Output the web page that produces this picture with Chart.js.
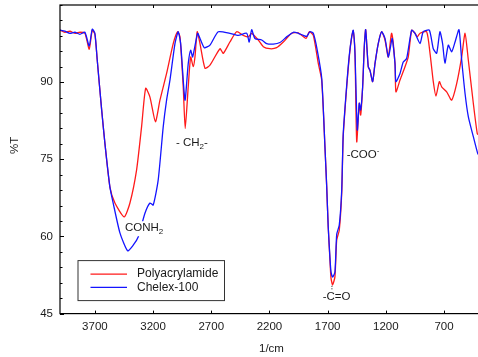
<!DOCTYPE html>
<html>
<head>
<meta charset="utf-8">
<title>IR spectra</title>
<script src="https://cdn.jsdelivr.net/npm/chart.js@4.4.1/dist/chart.umd.min.js"></script>
<style>
  html, body { margin: 0; padding: 0; overflow: hidden; background: #fff; }
  #wrap { width: 480px; height: 357px; }
</style>
</head>
<body>
<div id="wrap"><canvas id="irChart" width="480" height="357"></canvas></div>
<script>
// wavenumbers (1/cm) and transmittance (%T)
const paWn = [4000,3958,3915,3872,3829,3786,3749,3723,3700,3680,
  3642,3614,3571,3528,3448,3399,3342,3299,3264,3227,
  3180,3141,3084,3027,2989,2969,2941,2924,2898,2877,
  2855,2840,2821,2797,2754,2711,2625,2597,2540,2482,
  2425,2382,2353,2296,2253,2196,2138,2081,2009,1952,
  1886,1858,1823,1780,1751,1723,1708,1695,1680,1671,
  1657,1637,1622,1600,1579,1566,1536,1514,1493,1480,
  1465,1450,1428,1416,1399,1385,1373,1351,1336,1313,
  1293,1265,1236,1207,1179,1150,1121,1113,1078,1035,
  1007,978,949,930,906,849,820,792,769,740,
  720,677,634,591,548,519,491,448,414,400];
const paT = [100.1,99.7,99.9,99.5,99.7,99.5,96.4,100.1,99.3,94.3,
  84.6,78.1,69.6,66.5,63.8,66.5,72.9,81.3,88.8,87.1,
  82.3,86.5,91.7,97.5,99.8,98.8,89.1,81.0,89.1,94.9,
  93.0,94.9,99.8,97.5,92.7,93.3,96.5,95.6,97.8,99.8,
  99.1,98.8,99.5,98.2,96.9,96.5,96.7,97.8,99.5,99.6,
  98.5,99.8,99.1,93.6,90.4,77.4,69.7,61.9,55.4,51.9,
  50.6,52.2,59.3,61.2,68.4,79.4,89.1,94.9,98.8,100.0,
  95.6,78.4,85.9,83.6,89.1,96.9,100.2,93.0,92.3,90.1,
  93.6,97.5,99.8,98.2,94.9,99.5,93.6,88.1,90.4,93.0,
  94.9,100.1,99.5,98.8,99.5,99.8,95.6,90.1,87.3,90.1,
  89.1,88.1,86.5,89.7,94.9,99.5,94.3,85.9,80.0,79.7];

const chWn = [4000,3958,3915,3872,3829,3786,3749,3723,3700,3680,
  3642,3614,3571,3543,3485,3419,3371,3328,3270,3227,
  3199,3156,3113,3084,3055,3012,2984,2963,2926,2898,
  2877,2860,2817,2797,2760,2711,2640,2540,2468,2396,
  2374,2353,2325,2267,2224,2167,2110,2052,1995,1952,
  1909,1880,1852,1823,1789,1751,1723,1708,1695,1680,
  1671,1657,1637,1622,1600,1579,1566,1536,1514,1493,
  1480,1465,1445,1428,1416,1399,1385,1373,1351,1336,
  1313,1293,1265,1236,1207,1179,1165,1145,1121,1113,
  1078,1050,1021,978,949,906,878,826,792,763,
  735,712,692,663,634,605,571,548,519,491,
  448,410,400];
const chT = [100.1,99.9,99.5,99.7,99.3,99.7,97.0,100.3,99.5,94.3,
  84.6,78.1,69.6,66.5,60.7,57.2,58.3,59.9,64.5,66.5,
  66.1,71.0,81.3,86.5,90.4,97.5,99.8,97.5,86.5,93.6,
  96.2,94.9,99.5,98.5,96.7,97.2,99.8,99.5,99.1,99.5,
  97.8,100.2,98.5,98.2,97.5,97.4,97.7,98.8,99.7,99.5,
  99.1,98.9,99.8,99.5,96.2,90.8,77.4,69.7,61.9,55.8,
  53.1,52.1,53.1,60.4,62.2,69.0,79.9,89.4,95.2,98.9,
  100.1,95.6,80.7,85.9,84.6,89.1,96.9,100.2,93.0,92.3,
  90.1,93.6,97.5,99.8,98.5,94.9,96.2,98.5,93.6,90.1,
  91.7,93.9,94.6,100.1,99.5,97.5,99.8,100.1,96.5,95.6,
  99.8,97.5,93.7,97.2,95.9,97.8,100.2,94.3,87.8,83.3,
  79.4,76.1,75.8];

const seriesNames = ["Polyacrylamide", "Chelex-100"];
const xTicks = [3700, 3200, 2700, 2200, 1700, 1200, 700];
const yTicks = [45, 60, 75, 90];
const yMinorStep = 3;

// band labels, anchored at (wavenumber, %T) = left edge / vertical middle of the text
const bandLabels = [
  { wn: 3004, t: 78.2, parts: [{ s: "- CH" }, { s: "2", sub: true }, { s: "-" }] },
  { wn: 3442, t: 61.6, parts: [{ s: "CONH" }, { s: "2", sub: true }] },
  { wn: 1536, t: 75.8, parts: [{ s: "-COO" }, { s: "-", sup: true }] },
  { wn: 1743, t: 48.3, parts: [{ s: "-C=O" }] }
];

const FONT = '"Liberation Sans", Arial, sans-serif';
const TEXT = '#1a1a1a';

function toPoints(wn, vals) {
  return wn.map((w, i) => ({ x: w, y: vals[i] }));
}

function drawRich(ctx, x0, yc, parts, bg) {
  let w = 0;
  parts.forEach(p => {
    ctx.font = (p.sub || p.sup ? '8px ' : '11.5px ') + FONT;
    w += ctx.measureText(p.s).width;
  });
  if (bg) {
    ctx.fillStyle = '#fff';
    ctx.fillRect(x0 - 1, yc - 7, w + 2, 15);
  }
  ctx.fillStyle = TEXT;
  ctx.textBaseline = 'middle';
  ctx.textAlign = 'left';
  let xx = x0;
  parts.forEach(p => {
    ctx.font = (p.sub || p.sup ? '8px ' : '11.5px ') + FONT;
    const dy = p.sub ? 4 : p.sup ? -4 : 0;
    ctx.fillText(p.s, xx, yc + dy);
    xx += ctx.measureText(p.s).width;
  });
}

const decorations = {
  id: 'decorations',
  afterDatasetsDraw(chart) {
    const { ctx, scales: { x, y } } = chart;
    ctx.save();
    bandLabels.forEach(l => {
      drawRich(ctx, x.getPixelForValue(l.wn), y.getPixelForValue(l.t), l.parts, true);
    });
    // little dotted marker above the C=O label
    ctx.strokeStyle = TEXT;
    ctx.lineWidth = 1;
    ctx.setLineDash([1, 1.5]);
    const cx = x.getPixelForValue(1663);
    ctx.beginPath();
    ctx.moveTo(cx, y.getPixelForValue(50.4));
    ctx.lineTo(cx, y.getPixelForValue(49.5));
    ctx.stroke();
    ctx.restore();
  },
  afterDraw(chart) {
    const { ctx, chartArea: a, scales: { x, y } } = chart;
    ctx.save();

    // frame
    ctx.strokeStyle = '#000';
    ctx.lineWidth = 1.2;
    ctx.strokeRect(a.left, a.top, a.right - a.left, a.bottom - a.top);

    // inward tick marks
    ctx.lineWidth = 1;
    ctx.beginPath();
    xTicks.forEach(v => {
      const px = Math.round(x.getPixelForValue(v)) + 0.5;
      ctx.moveTo(px, a.bottom); ctx.lineTo(px, a.bottom - 3);
      ctx.moveTo(px, a.top); ctx.lineTo(px, a.top + 3);
    });
    for (let v = y.min; v <= y.max; v += yMinorStep) {
      const py = Math.round(y.getPixelForValue(v)) + 0.5;
      const len = yTicks.includes(v) ? 4 : 2.5;
      ctx.moveTo(a.left, py); ctx.lineTo(a.left + len, py);
    }
    ctx.stroke();

    // axis titles
    ctx.fillStyle = TEXT;
    ctx.font = '11.5px ' + FONT;
    ctx.textAlign = 'center';
    ctx.textBaseline = 'middle';
    ctx.fillText('1/cm', (a.left + a.right) / 2 + 2, 349);
    ctx.save();
    ctx.translate(15, (a.top + a.bottom) / 2 - 14);
    ctx.rotate(-Math.PI / 2);
    ctx.fillText('%T', 0, 0);
    ctx.restore();

    // legend box
    const bx = a.left + 17.5, by = a.bottom - 53.5, bw = 146.5, bh = 40;
    ctx.fillStyle = '#fff';
    ctx.fillRect(bx, by, bw, bh);
    ctx.strokeStyle = '#333';
    ctx.lineWidth = 1;
    ctx.strokeRect(bx + 0.5, by + 0.5, bw, bh);
    chart.data.datasets.forEach((ds, i) => {
      const ly = by + 14 + i * 13.3;
      ctx.strokeStyle = ds.borderColor;
      ctx.lineWidth = 1.3;
      ctx.beginPath();
      ctx.moveTo(bx + 13, ly);
      ctx.lineTo(bx + 49.5, ly);
      ctx.stroke();
      ctx.fillStyle = TEXT;
      ctx.font = '12px ' + FONT;
      ctx.textAlign = 'left';
      ctx.fillText(ds.label, bx + 59.5, ly);
    });
    ctx.restore();
  }
};

const ctx = document.getElementById('irChart').getContext('2d');
const chart = new Chart(ctx, {
  type: 'line',
  data: {
    datasets: [
      {
        label: seriesNames[0],
        data: toPoints(paWn, paT),
        borderColor: '#ff1a1a',
        order: 1
      },
      {
        label: seriesNames[1],
        data: toPoints(chWn, chT),
        borderColor: '#1414ff',
        order: 0
      }
    ]
  },
  options: {
    responsive: false,
    animation: false,
    devicePixelRatio: 1,
    parsing: false,
    layout: { padding: { top: 5, right: 1.1, left: 0, bottom: 0 } },
    elements: {
      line: { borderWidth: 1.3, tension: 0.2, fill: false },
      point: { radius: 0 }
    },
    plugins: {
      legend: { display: false },
      tooltip: { enabled: false }
    },
    scales: {
      x: {
        type: 'linear',
        reverse: true,
        min: 400,
        max: 4000,
        grid: { display: false, drawTicks: false, tickLength: 0 },
        border: { display: false },
        afterBuildTicks: s => { s.ticks = xTicks.map(v => ({ value: v })); },
        afterFit: s => { s.height = 43.4; s.paddingLeft = 0; s.paddingRight = 0; },
        ticks: {
          color: TEXT, font: { family: FONT, size: 11.5 }, padding: 6, maxRotation: 0,
          callback: v => String(v)
        }
      },
      y: {
        min: 45,
        max: 105,
        grid: { display: false, drawTicks: false, tickLength: 0 },
        border: { display: false },
        afterBuildTicks: s => { s.ticks = yTicks.map(v => ({ value: v })); },
        afterFit: s => { s.width = 60; s.paddingTop = 0; s.paddingBottom = 0; },
        ticks: {
          color: TEXT, font: { family: FONT, size: 11.5 }, padding: 7,
          callback: v => String(v)
        }
      }
    }
  },
  plugins: [decorations]
});
</script>
</body>
</html>
